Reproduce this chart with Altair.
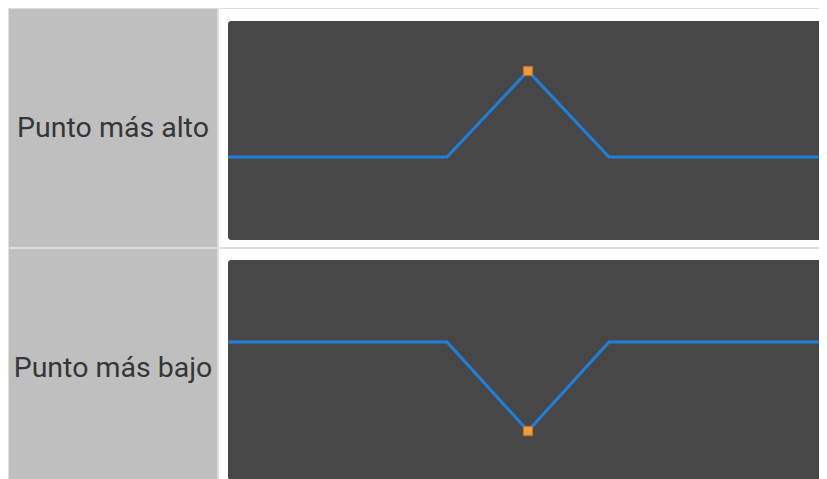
import altair as alt
import pandas as pd

# ---- data ----
labels = ["Punto más alto", "Punto más bajo"]
x_vals = [0, 3.65, 5, 6.35, 10]
top_vals = [0, 0, 1, 0, 0]
bottom_vals = [0, 0, -1, 0, 0]
series = [top_vals, bottom_vals]
x_domain = [-0.15, 9.85]

CELL_W = 208
PANEL_W = 600
ROW_H = 238
y_domains = [[-1.047, 1.721], [-1.629, 1.045]]
panel_y = [(12, 231), (11, 231)]


def make_row(i):
    label = labels[i]
    vals = series[i]
    df = pd.DataFrame({"x": x_vals, "y": vals})
    ext = df.loc[df["y"].abs().idxmax()].to_frame().T

    label_cell = alt.Chart(pd.DataFrame({"label": [label]})).mark_text(
        font="Roboto", fontSize=28.5, color="#363636", align="center", baseline="middle"
    ).encode(
        x=alt.value(CELL_W / 2), y=alt.value(119), text="label:N"
    ).properties(
        width=CELL_W, height=ROW_H,
        view=alt.ViewBackground(fill="#bfbfbf", stroke=None),
    )

    xs = alt.Scale(domain=x_domain, nice=False, zero=False)
    ys = alt.Scale(domain=y_domains[i], nice=False, zero=False)

    panel = alt.Chart(alt.Data(values=[{}])).mark_rect(
        color="#474747", cornerRadiusTopLeft=3, cornerRadiusBottomLeft=3
    ).encode(
        x=alt.value(9), x2=alt.value(PANEL_W),
        y=alt.value(panel_y[i][0]), y2=alt.value(panel_y[i][1]),
    )
    line = alt.Chart(df).mark_line(
        color="#1f80dc", strokeWidth=3, clip=True
    ).encode(
        x=alt.X("x:Q", scale=xs, axis=None),
        y=alt.Y("y:Q", scale=ys, axis=None),
    )
    marker = alt.Chart(ext).mark_square(
        size=85, fill="#ef9b3c", stroke="#b9742a", strokeWidth=1, opacity=1
    ).encode(
        x=alt.X("x:Q", scale=xs, axis=None),
        y=alt.Y("y:Q", scale=ys, axis=None),
    )
    right = alt.layer(panel, line, marker).properties(
        width=PANEL_W, height=ROW_H,
        view=alt.ViewBackground(fill="white", stroke=None),
    )
    return alt.hconcat(label_cell, right, spacing=2)


chart = alt.vconcat(make_row(0), make_row(1), spacing=2).properties(
    background="#dedede",
    padding={"left": 1, "top": 1, "right": 0, "bottom": 0},
).configure_view(stroke=None).configure_concat(spacing=2)

chart.save("out.html", embed_options={"renderer": "svg", "actions": False})
